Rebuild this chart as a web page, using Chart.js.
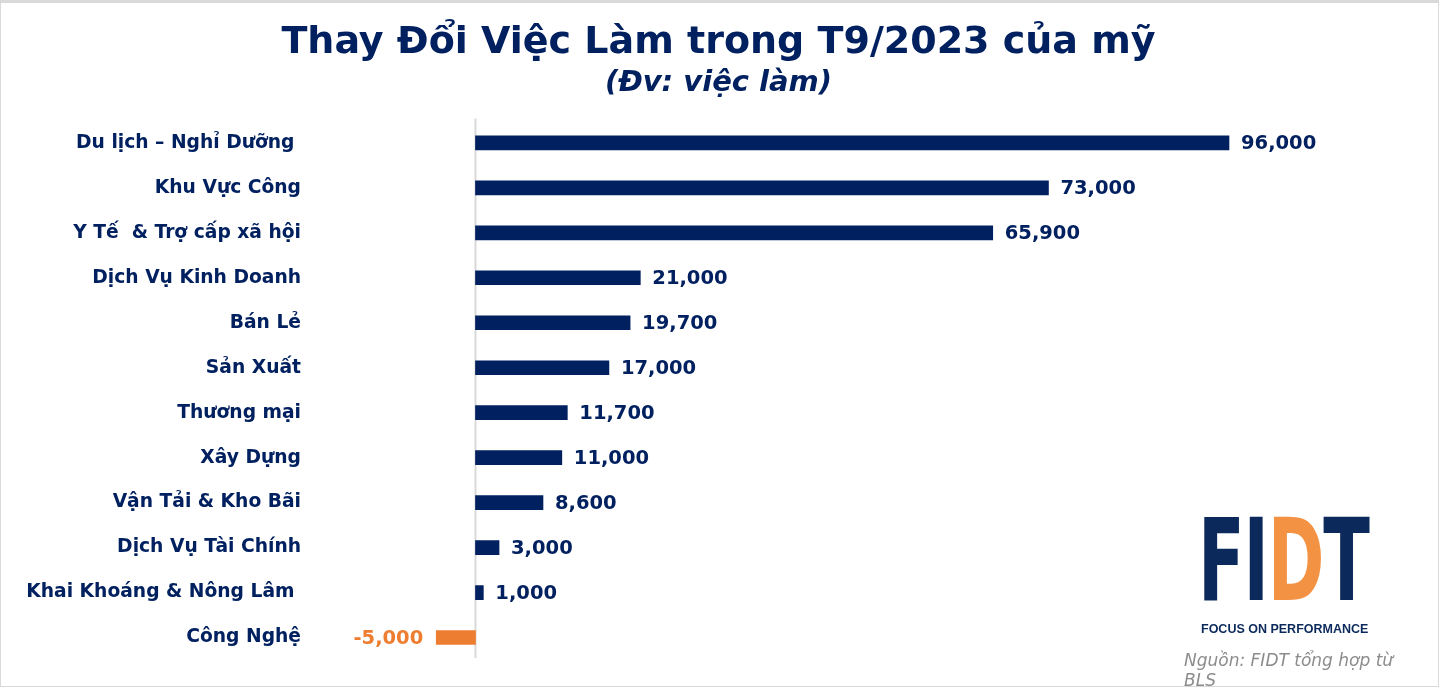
<!DOCTYPE html>
<html>
<head>
<meta charset="utf-8">
<script src="https://cdn.jsdelivr.net/npm/chart.js@4.4.0/dist/chart.umd.min.js"></script>
<style>
  html, body { margin: 0; padding: 0; background: #fff; }
  #wrap { position: relative; width: 1439px; height: 687px; overflow: hidden; }
  #chart { position: absolute; left: 0; top: 0; }
  #frame { position: absolute; left: 0; top: 0; width: 1439px; height: 687px; box-sizing: border-box; border: 1px solid #d9d9d9; border-top: 3px solid #d9d9d9; pointer-events: none; }
  #logo { position: absolute; left: 1198px; top: 504px; font-family: "DejaVu Sans", sans-serif; font-weight: bold; font-size: 114px; line-height: 114px; color: #0b2a5b; letter-spacing: -2px; transform: scaleX(0.6); transform-origin: left top; white-space: nowrap; }
  #logo .d { color: #f39243; }
  #tag { position: absolute; left: 1201px; top: 622px; font-family: "Liberation Sans", Arial, sans-serif; font-weight: bold; font-size: 12.5px; color: #0b2a5b; }
  #src { position: absolute; left: 1184px; top: 650px; width: 232px; font-family: "DejaVu Sans", sans-serif; font-style: italic; font-size: 17px; line-height: 20px; color: #8c8c8c; }
</style>
</head>
<body>
<div id="wrap">
  <canvas id="chart" width="1439" height="687"></canvas>
  <div id="logo">FI<span class="d">D</span>T</div>
  <div id="tag">FOCUS ON PERFORMANCE</div>
  <div id="src">Nguồn: FIDT tổng hợp từ BLS</div>
  <div id="frame"></div>
</div>
<script>
// Dữ liệu
const categories = [
  'Du lịch – Nghỉ Dưỡng ',
  'Khu Vực Công',
  'Y Tế  & Trợ cấp xã hội',
  'Dịch Vụ Kinh Doanh',
  'Bán Lẻ',
  'Sản Xuất',
  'Thương mại',
  'Xây Dựng',
  'Vận Tải & Kho Bãi',
  'Dịch Vụ Tài Chính',
  'Khai Khoáng & Nông Lâm ',
  'Công Nghệ'
];
const jobChanges = [96000, 73000, 65900, 21000, 19700, 17000, 11700, 11000, 8600, 3000, 1000, -5000];

const NAVY = '#002060';
const ORANGE = '#ED7D31';
const FONT = '"DejaVu Sans", Verdana, sans-serif';

// Trục 0 màu xám nhạt
const zeroLine = {
  id: 'zeroLine',
  beforeDatasetsDraw(chart) {
    const ctx = chart.ctx;
    const x = chart.scales.x.getPixelForValue(0);
    const a = chart.chartArea;
    ctx.save();
    ctx.strokeStyle = '#d9d9d9';
    ctx.lineWidth = 2;
    ctx.beginPath();
    ctx.moveTo(x, a.top - 2);
    ctx.lineTo(x, a.bottom - 2);
    ctx.stroke();
    ctx.restore();
  }
};

// Nhãn giá trị ở cuối mỗi thanh
const valueLabels = {
  id: 'valueLabels',
  afterDatasetsDraw(chart) {
    const ctx = chart.ctx;
    const meta = chart.getDatasetMeta(0);
    ctx.save();
    ctx.font = 'bold 19.5px ' + FONT;
    ctx.textBaseline = 'middle';
    meta.data.forEach((bar, i) => {
      const v = jobChanges[i];
      const txt = v.toLocaleString('en-US');
      if (v >= 0) {
        ctx.fillStyle = NAVY;
        ctx.textAlign = 'left';
        ctx.fillText(txt, bar.x + 12, bar.y + 1);
      } else {
        ctx.fillStyle = ORANGE;
        ctx.textAlign = 'right';
        ctx.fillText(txt, bar.x - 13, bar.y + 1);
      }
    });
    ctx.restore();
  }
};

const ctx = document.getElementById('chart').getContext('2d');
new Chart(ctx, {
  type: 'bar',
  data: {
    labels: categories,
    datasets: [{
      data: jobChanges,
      backgroundColor: jobChanges.map(v => v < 0 ? ORANGE : NAVY),
      barThickness: 14,
      borderWidth: 0
    }]
  },
  options: {
    indexAxis: 'y',
    responsive: false,
    animation: false,
    layout: { padding: { left: 0, right: 2, top: 0, bottom: 27 } },
    scales: {
      x: {
        min: -10000,
        max: 122500,
        afterFit: s => { s.height = 0; },
        ticks: { display: false },
        border: { display: false },
        grid: { display: false, drawTicks: false }
      },
      y: {
        // fixed width; the big tick padding must not push the chart area
        afterFit: s => { s.width = 397; s.paddingTop = 0; s.paddingBottom = 0; },
        border: { display: false },
        grid: { display: false, drawTicks: false },
        ticks: {
          padding: 96,
          color: NAVY,
          font: { family: FONT, weight: 'bold', size: 18.7 }
        }
      }
    },
    plugins: {
      legend: { display: false },
      tooltip: { enabled: false },
      title: {
        display: true,
        text: 'Thay Đổi Việc Làm trong T9/2023 của mỹ',
        color: NAVY,
        font: { family: FONT, weight: 'bold', size: 38, lineHeight: 1.2 },
        padding: { top: 20, bottom: 0 }
      },
      subtitle: {
        display: true,
        text: '(Đv: việc làm)',
        color: NAVY,
        font: { family: FONT, weight: 'bold', style: 'italic', size: 29, lineHeight: 1.2 },
        padding: { top: 0, bottom: 20 }
      }
    }
  },
  plugins: [zeroLine, valueLabels]
});
</script>
</body>
</html>
